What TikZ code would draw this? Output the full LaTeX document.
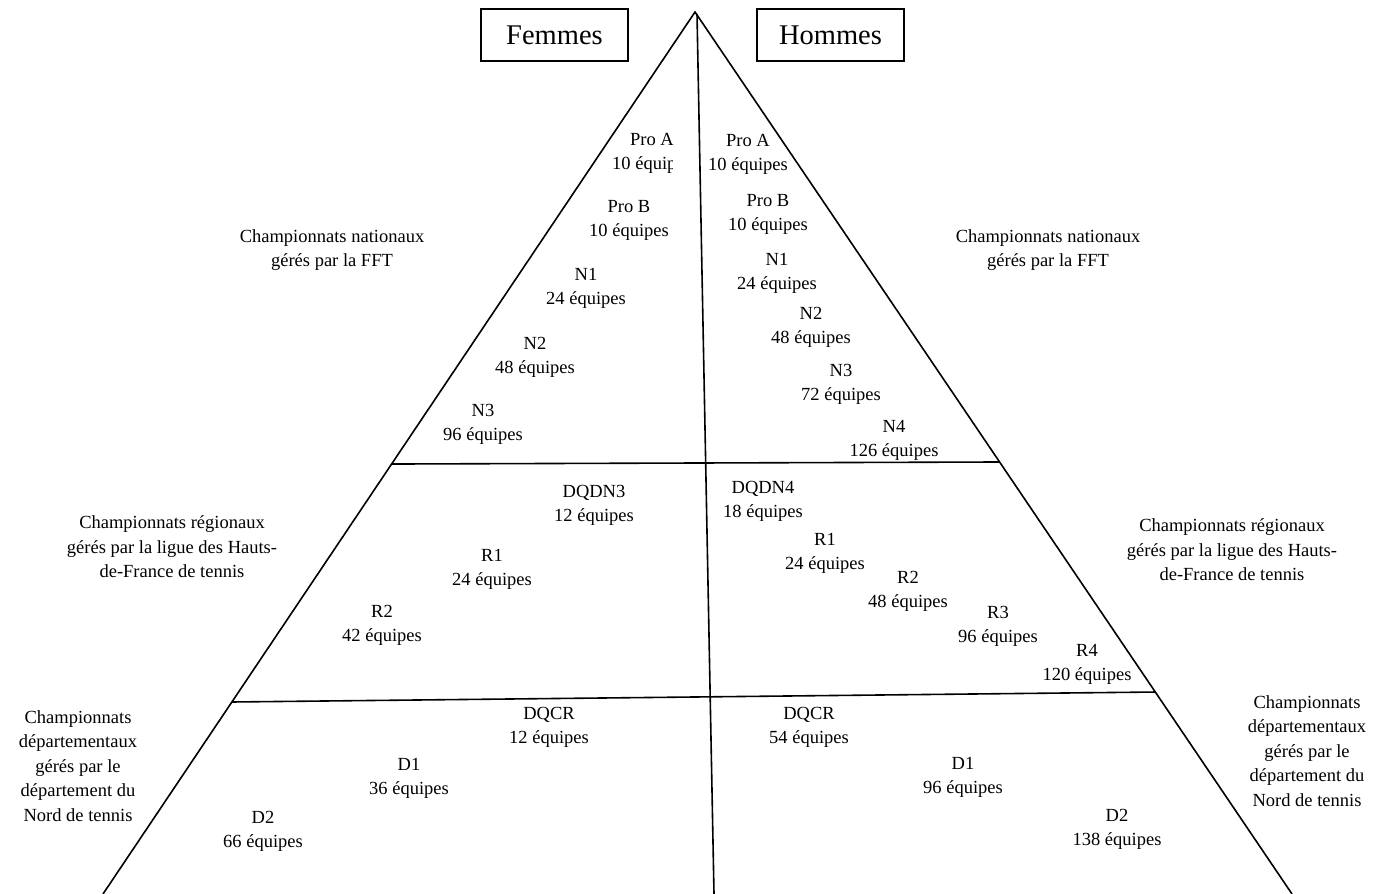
\documentclass[tikz,border=0pt]{standalone}
\usepackage{fontspec}
\setmainfont{Liberation Serif}
\usetikzlibrary{calc}
\begin{document}
\begin{tikzpicture}[x=1pt,y=-1pt,
  lvl/.style={inner sep=0pt, align=center, font=\fontsize{18.5}{24}\selectfont},
  side/.style={inner sep=0pt, align=center, font=\fontsize{18.5}{24.5}\selectfont},
  titlebox/.style={draw, line width=1.6pt, inner sep=0pt, minimum width=147pt, minimum height=52pt, font=\fontsize{28.5}{30}\selectfont},
  edge/.style={line width=1.6pt, line join=miter}]
\useasboundingbox (0,0) rectangle (1392,894);
\fill[white] (0,0) rectangle (1392,894);
% frame of the pyramid
\coordinate (apex) at (695,12);
\coordinate (bl) at (103,894);
\coordinate (br) at (1292,894);
\coordinate (ct) at (697,14);
\coordinate (cb) at (714,894);
\coordinate (h1l) at ($(apex)!0.5125!(bl)$);
\coordinate (h1r) at ($(apex)!0.5102!(br)$);
\coordinate (h2l) at ($(apex)!0.7823!(bl)$);
\coordinate (h2r) at ($(apex)!0.7710!(br)$);
\draw[edge] (bl) -- (apex) -- (br);
\draw[edge] (ct) -- (cb);
\draw[edge] (h1l) -- (h1r);
\draw[edge] (h2l) -- (h2r);
% titles
\node[titlebox] (femmes) at (554.5,35) {Femmes};
\node[titlebox] (hommes) at (830.5,35) {Hommes};
% women, national
\begin{scope}
\clip (0,0) -- (690,0) -- (690,152) -- (672,152) -- (672,894) -- (0,894) -- cycle;
\node[lvl] (fpa) at (652,153) {Pro A\\10 équipes};
\end{scope}
\node[lvl] (fpb) at (629,220) {Pro B\\10 équipes};
\node[lvl] (fn1) at (586,288) {N1\\24 équipes};
\node[lvl] (fn2) at (535,357) {N2\\48 équipes};
\node[lvl] (fn3) at (483,424) {N3\\96 équipes};
% women, regional
\node[lvl] (fdqdn) at (594,505) {DQDN3\\12 équipes};
\node[lvl] (fr1) at (492,569) {R1\\24 équipes};
\node[lvl] (fr2) at (382,625) {R2\\42 équipes};
% women, departmental
\node[lvl] (fdqcr) at (549,727) {DQCR\\12 équipes};
\node[lvl] (fd1) at (409,778) {D1\\36 équipes};
\node[lvl] (fd2) at (263,831) {D2\\66 équipes};
% men, national
\node[lvl] (hpa) at (748,154) {Pro A\\10 équipes};
\node[lvl] (hpb) at (768,214) {Pro B\\10 équipes};
\node[lvl] (hn1) at (777,273) {N1\\24 équipes};
\node[lvl] (hn2) at (811,327) {N2\\48 équipes};
\node[lvl] (hn3) at (841,384) {N3\\72 équipes};
\node[lvl] (hn4) at (894,440) {N4\\126 équipes};
% men, regional
\node[lvl] (hdqdn) at (763,501) {DQDN4\\18 équipes};
\node[lvl] (hr1) at (825,553) {R1\\24 équipes};
\node[lvl] (hr2) at (908,591) {R2\\48 équipes};
\node[lvl] (hr3) at (998,626) {R3\\96 équipes};
\node[lvl] (hr4) at (1087,664) {R4\\120 équipes};
% men, departmental
\node[lvl] (hdqcr) at (809,727) {DQCR\\54 équipes};
\node[lvl] (hd1) at (963,777) {D1\\96 équipes};
\node[lvl] (hd2) at (1117,829) {D2\\138 équipes};
% side labels
\node[side] (natl) at (332,250) {Championnats nationaux\\gérés par la FFT};
\node[side] (natr) at (1048,250) {Championnats nationaux\\gérés par la FFT};
\node[side] (regl) at (172,547) {Championnats régionaux\\gérés par la ligue des Hauts-\\de-France de tennis};
\node[side] (regr) at (1232,550) {Championnats régionaux\\gérés par la ligue des Hauts-\\de-France de tennis};
\node[side] (depl) at (78,766) {Championnats\\départementaux\\gérés par le\\département du\\Nord de tennis};
\node[side] (depr) at (1307,751) {Championnats\\départementaux\\gérés par le\\département du\\Nord de tennis};
\end{tikzpicture}
\end{document}
